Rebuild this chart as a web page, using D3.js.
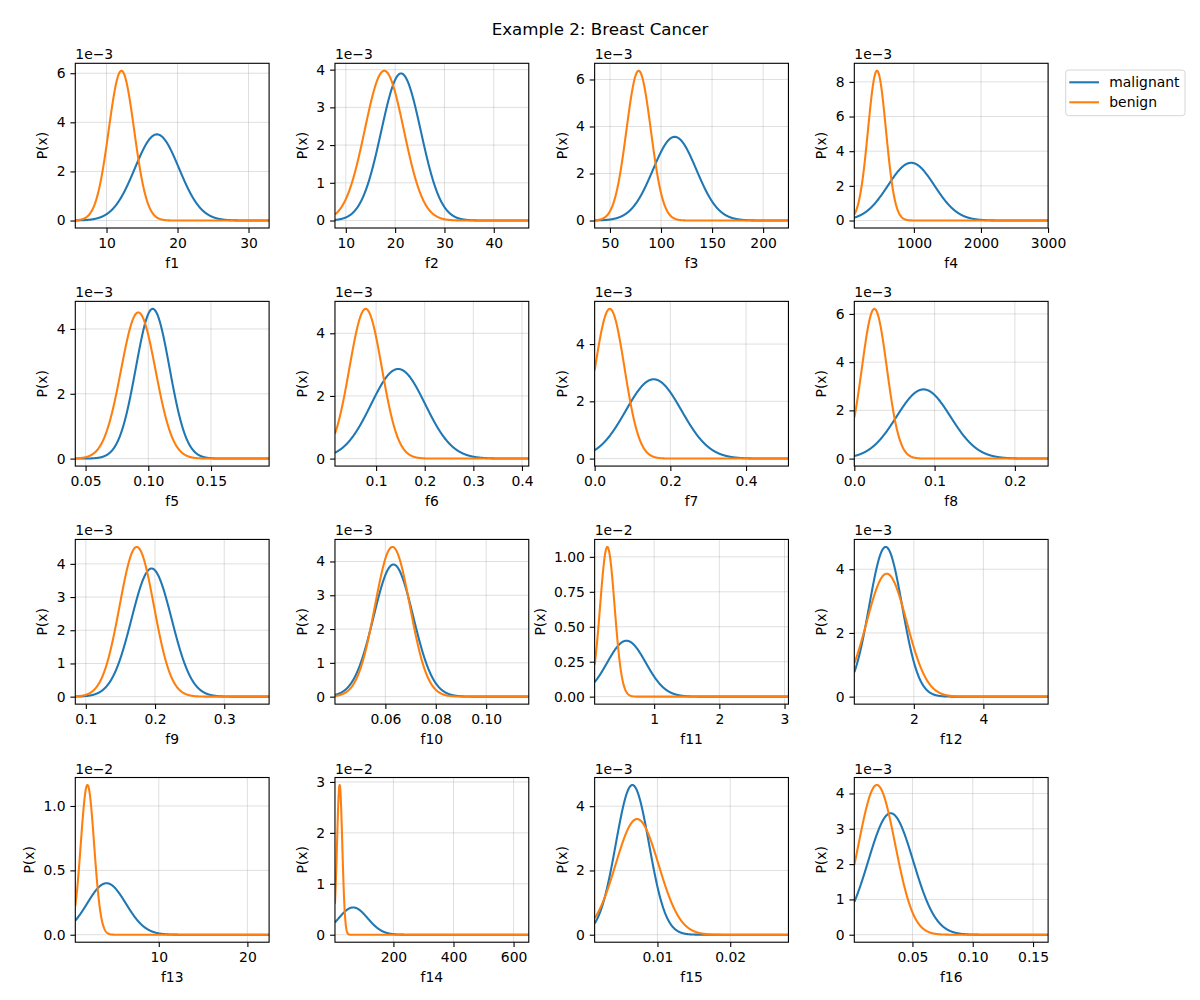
<!DOCTYPE html>
<html><head><meta charset="utf-8">
<script src="https://cdn.jsdelivr.net/npm/d3@7"></script>
<style>
body{margin:0;background:#fff}
svg{display:block}
text{font-family:"DejaVu Sans",sans-serif;fill:#000}
</style>
</head><body>
<svg id="chart" width="1200" height="1000"></svg>
<script>
// ---- data ----
const title = "Example 2: Breast Cancer";
const features = ["f1","f2","f3","f4","f5","f6","f7","f8","f9","f10","f11","f12","f13","f14","f15","f16"];
const classes = ["malignant","benign"];
const classColors = ["#1f77b4","#ff7f0e"];

const xMin = [5.6, 7.8, 35.0, 112, 0.0418, 0.0154, 0, 0, 0.0848, 0.0400, 0.087, 0.288, 0.58, 5.44, 0.00137, 0.0018];
const xMax = [32.9, 47.1, 224.8, 3001, 0.1963, 0.4140, 0.512, 0.2414, 0.3648, 0.1169, 3.06, 5.862, 22.45, 650.6, 0.0280, 0.1625];

const malignantMean = [17.1, 21.2, 113.4, 960, 0.1035, 0.1454, 0.156, 0.0862, 0.195, 0.0632, 0.575, 1.19, 4.1, 66, 0.00656, 0.032];
const malignantSd   = [3.106, 4.024, 21.29, 346.4, 0.01342, 0.05564, 0.0735, 0.0336, 0.02897, 0.00785, 0.2968, 0.4736, 2.186, 48.07, 0.002282, 0.01866];
const malignantPeak = [3.51e-3, 3.90e-3, 3.56e-3, 3.33e-3, 4.62e-3, 2.86e-3, 2.77e-3, 2.87e-3, 3.86e-3, 3.91e-3, 0.400e-2, 4.70e-3, 0.400e-2, 0.536e-2, 4.66e-3, 3.44e-3];

const benignMean = [12.1, 17.8, 78.1, 450, 0.0920, 0.0785, 0.040, 0.025, 0.1736, 0.0628, 0.282, 1.22, 1.95, 21, 0.0072, 0.0205];
const benignSd   = [1.787, 3.953, 11.90, 133.5, 0.01374, 0.03329, 0.0389, 0.01552, 0.02479, 0.00693, 0.1109, 0.5767, 0.752, 8.764, 0.002954, 0.01514];
const benignPeak = [6.10e-3, 3.97e-3, 6.37e-3, 8.64e-3, 4.51e-3, 4.78e-3, 5.23e-3, 6.21e-3, 4.51e-3, 4.43e-3, 1.071e-2, 3.86e-3, 1.163e-2, 2.94e-2, 3.60e-3, 4.24e-3];

const yExponent = [-3,-3,-3,-3,-3,-3,-3,-3,-3,-3,-2,-3,-2,-2,-3,-3];

const xTickLabels = [
  ["10","20","30"], ["10","20","30","40"], ["50","100","150","200"], ["1000","2000","3000"],
  ["0.05","0.10","0.15"], ["0.1","0.2","0.3","0.4"], ["0.0","0.2","0.4"], ["0.0","0.1","0.2"],
  ["0.1","0.2","0.3"], ["0.06","0.08","0.10"], ["1","2","3"], ["2","4"],
  ["10","20"], ["200","400","600"], ["0.01","0.02"], ["0.05","0.10","0.15"]
];
const yTickLabels = [
  ["0","2","4","6"], ["0","1","2","3","4"], ["0","2","4","6"], ["0","2","4","6","8"],
  ["0","2","4"], ["0","2","4"], ["0","2","4"], ["0","2","4","6"],
  ["0","1","2","3","4"], ["0","1","2","3","4"], ["0.00","0.25","0.50","0.75","1.00"], ["0","2","4"],
  ["0.0","0.5","1.0"], ["0","1","2","3"], ["0","2","4"], ["0","1","2","3","4"]
];
const yLabel = "P(x)";
const gridPoints = 1000;

// ---- layout ----
const FS = 13.9;
const left0 = 75.3, colStep = 259.67, axW = 193.8;
const top0 = 63.3, rowStep = 238.07, axH = 164.7;

const svg = d3.select("#chart");
svg.append("rect").attr("width",1200).attr("height",1000).attr("fill","#fff");

svg.append("text").attr("x",600).attr("y",34.5).attr("text-anchor","middle")
  .style("font-size","16.67px").text(title);

const params = [
  {mean: malignantMean, sd: malignantSd, peak: malignantPeak},
  {mean: benignMean, sd: benignSd, peak: benignPeak}
];

features.forEach((name, i) => {
  const col = i % 4, row = Math.floor(i / 4);
  const L = left0 + col * colStep, T = top0 + row * rowStep;
  const g = svg.append("g").attr("transform", `translate(${L},${T})`);

  const x = d3.scaleLinear().domain([xMin[i], xMax[i]]).range([0, axW]);
  const maxPeak = Math.max(malignantPeak[i], benignPeak[i]);
  const y = d3.scaleLinear().domain([-0.05 * maxPeak, 1.05 * maxPeak]).range([axH, 0]);
  const mult = Math.pow(10, yExponent[i]);
  const xt = xTickLabels[i].map(Number);
  const yt = yTickLabels[i].map(s => +s * mult);

  // grid
  const grid = g.append("g").attr("stroke","#b0b0b0").attr("stroke-opacity",0.5).attr("stroke-width",0.8);
  grid.selectAll(".gx").data(xt).join("line")
    .attr("x1", d => x(d)).attr("x2", d => x(d)).attr("y1", 0).attr("y2", axH);
  grid.selectAll(".gy").data(yt).join("line")
    .attr("y1", d => y(d)).attr("y2", d => y(d)).attr("x1", 0).attr("x2", axW);

  // clip
  const cid = "clip" + i;
  g.append("clipPath").attr("id", cid).append("rect").attr("width", axW).attr("height", axH);

  // curves: Gaussian class densities from the read mean / sd / peak
  const xs = d3.range(gridPoints).map(k => xMin[i] + (xMax[i] - xMin[i]) * k / (gridPoints - 1));
  params.forEach((p, c) => {
    const mu = p.mean[i], sd = p.sd[i], pk = p.peak[i];
    const pts = xs.map(v => [v, pk * Math.exp(-0.5 * ((v - mu) / sd) ** 2)]);
    g.append("path").datum(pts)
      .attr("clip-path", `url(#${cid})`)
      .attr("fill","none").attr("stroke", classColors[c]).attr("stroke-width", 2.08)
      .attr("stroke-linejoin","round").attr("stroke-linecap","butt")
      .attr("d", d3.line().x(d => x(d[0])).y(d => y(d[1])));
  });

  // axes
  const xAxis = d3.axisBottom(x).tickValues(xt).tickFormat((d, j) => xTickLabels[i][j])
    .tickSizeOuter(0).tickSize(4.9).tickPadding(4.9);
  const yAxis = d3.axisLeft(y).tickValues(yt).tickFormat((d, j) => yTickLabels[i][j])
    .tickSizeOuter(0).tickSize(4.9).tickPadding(4.9);
  const gx = g.append("g").attr("transform", `translate(0,${axH})`).call(xAxis);
  const gy = g.append("g").call(yAxis);
  [gx, gy].forEach(a => {
    a.select(".domain").remove();
    a.selectAll("line").attr("stroke","#000").attr("stroke-width",1.1);
    a.selectAll("text").style("font-size", FS + "px").style("font-family","'DejaVu Sans',sans-serif").attr("fill","#000");
  });

  // frame
  g.append("rect").attr("width", axW).attr("height", axH)
    .attr("fill","none").attr("stroke","#000").attr("stroke-width",1.1);

  // offset text
  g.append("text").attr("x", 0).attr("y", -4).style("font-size", FS + "px")
    .text("1e\u2212" + Math.abs(yExponent[i]));

  // x label
  g.append("text").attr("x", axW / 2).attr("y", axH + 40).attr("text-anchor","middle")
    .style("font-size", FS + "px").text(name);

  // y label
  let minX = 0;
  gy.selectAll("text").each(function() {
    const b = this.getBBox();
    const tx = -(4.9 + 4.9) - b.width;
    if (tx < minX) minX = tx;
  });
  const lx = minX - 9.3;
  g.append("text").attr("transform", `translate(${lx},${axH / 2}) rotate(-90)`)
    .attr("text-anchor","middle").style("font-size", FS + "px").text(yLabel);
});

// legend
const leg = svg.append("g");
leg.append("rect").attr("x",1065.7).attr("y",70).attr("width",119.3).attr("height",45.7)
  .attr("rx",3).attr("fill","#fff").attr("fill-opacity",0.8).attr("stroke","#d6d6d6").attr("stroke-width",1);
classes.forEach((c, k) => {
  const yy = 82.3 + k * 20;
  leg.append("line").attr("x1",1069.3).attr("x2",1099).attr("y1",yy).attr("y2",yy)
    .attr("stroke", classColors[k]).attr("stroke-width",2.08);
  leg.append("text").attr("x",1109.3).attr("y",yy + 4.9).style("font-size", FS + "px").text(c);
});
</script>
</body></html>
